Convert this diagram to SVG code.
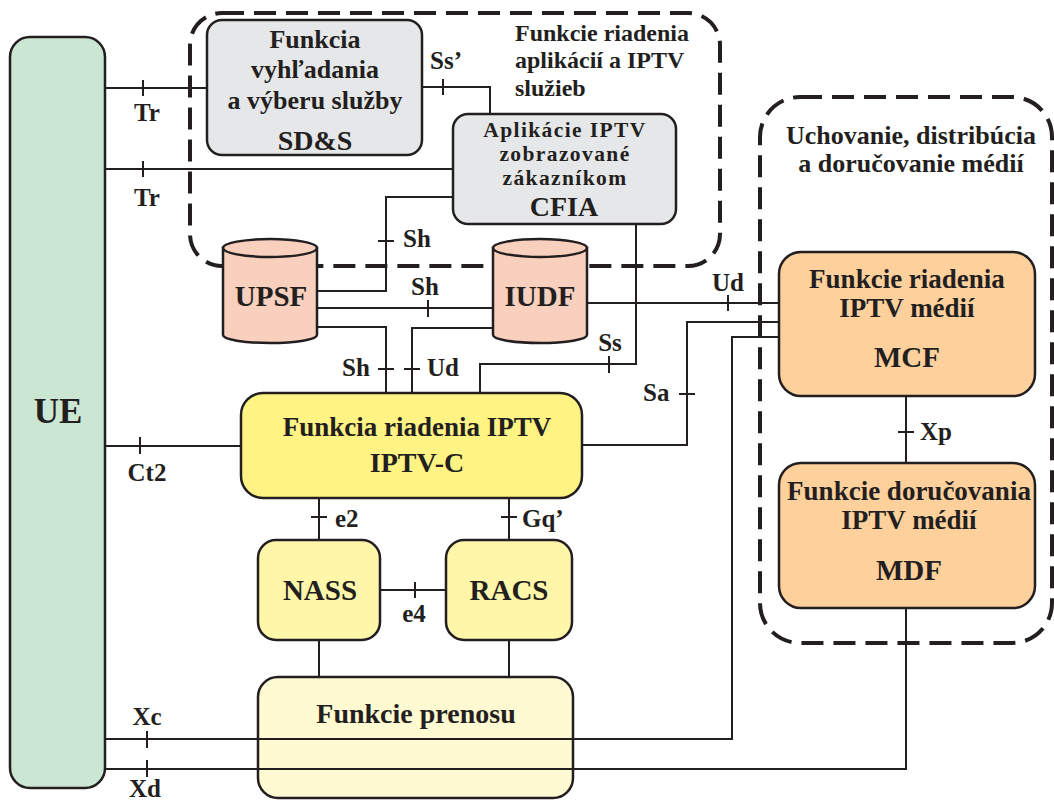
<svg xmlns="http://www.w3.org/2000/svg" width="1054" height="801" viewBox="0 0 1054 801">
<style>
text{font-family:"Liberation Serif","Times New Roman",serif;font-weight:bold;fill:#231f20}
.c{text-anchor:middle}
.box{stroke:#231f20;stroke-width:2.5}
.grp{fill:none;stroke:#231f20;stroke-width:4;stroke-dasharray:22 10}
.ln{fill:none;stroke:#231f20;stroke-width:2}
.t{font-size:26px}
.lb{font-size:25px}
.cf{font-size:21.5px;letter-spacing:1.4px}
</style>
<rect width="1054" height="801" fill="#ffffff"/>
<g id="group-app">
<rect class="grp" x="190" y="13" width="530" height="253" rx="32"/>
<text x="515" y="41" font-size="24">Funkcie riadenia</text>
<text x="515" y="68" font-size="24">aplikácií a IPTV</text>
<text x="515" y="96" font-size="24">služieb</text>
</g>
<g id="group-media">
<rect class="grp" x="760" y="97" width="292" height="546" rx="40"/>
<text class="t c" x="911" y="144">Uchovanie, distribúcia</text>
<text class="t c" x="911" y="172">a doručovanie médií</text>
</g>
<g id="UE">
<rect class="box" x="10" y="37" width="95" height="751" rx="20" fill="#cce6d4"/>
<text class="c" x="58" y="423" font-size="35">UE</text>
</g>
<g id="SDS">
<rect class="box" x="207" y="20" width="215" height="135" rx="15" fill="#e6e7e8"/>
<text class="t c" x="315" y="48">Funkcia</text>
<text class="t c" x="315" y="78">vyhľadania</text>
<text class="t c" x="315" y="109">a výberu služby</text>
<text class="c" x="315" y="150" font-size="28">SD&amp;S</text>
</g>
<g id="CFIA">
<rect class="box" x="453" y="114" width="223" height="110" rx="15" fill="#e6e7e8"/>
<text class="c cf" x="565" y="137">Aplikácie IPTV</text>
<text class="c cf" x="565" y="161">zobrazované</text>
<text class="c cf" x="565" y="185">zákazníkom</text>
<text class="c" x="564" y="216" font-size="28">CFIA</text>
</g>
<g id="UPSF">
<path class="box" d="M223,248 V335 A47,8 0 0 0 317,335 V248 Z" fill="#f9cfbd"/>
<ellipse class="box" cx="270" cy="248" rx="47" ry="9" fill="#f9cfbd"/>
<text class="c" x="271" y="306" font-size="29">UPSF</text>
</g>
<g id="IUDF">
<path class="box" d="M493,248 V335 A47,8 0 0 0 587,335 V248 Z" fill="#f9cfbd"/>
<ellipse class="box" cx="540" cy="248" rx="47" ry="9" fill="#f9cfbd"/>
<text class="c" x="540" y="306" font-size="29">IUDF</text>
</g>
<g id="IPTV-C">
<rect class="box" x="241" y="393" width="341" height="105" rx="22" fill="#fff383"/>
<text class="c" x="417" y="436" font-size="27">Funkcia riadenia IPTV</text>
<text class="c" x="417" y="472" font-size="28">IPTV-C</text>
</g>
<g id="NASS">
<rect class="box" x="258" y="540" width="122" height="100" rx="18" fill="#fff6aa"/>
<text class="c" x="320" y="600" font-size="29">NASS</text>
</g>
<g id="RACS">
<rect class="box" x="446" y="540" width="126" height="100" rx="18" fill="#fff6aa"/>
<text class="c" x="509" y="600" font-size="29">RACS</text>
</g>
<g id="prenos">
<rect class="box" x="258" y="677" width="315" height="121" rx="20" fill="#fffad2"/>
<text class="c" x="416" y="723" font-size="28">Funkcie prenosu</text>
</g>
<g id="MCF">
<rect class="box" x="779" y="252" width="256" height="144" rx="22" fill="#fed09c"/>
<text class="c" x="907" y="288" font-size="27">Funkcie riadenia</text>
<text class="c" x="907" y="317" font-size="27">IPTV médií</text>
<text class="c" x="907" y="367" font-size="29">MCF</text>
</g>
<g id="MDF">
<rect class="box" x="779" y="463" width="256" height="145" rx="22" fill="#fed09c"/>
<text class="c" x="909" y="500" font-size="27">Funkcie doručovania</text>
<text class="c" x="909" y="529" font-size="27">IPTV médií</text>
<text class="c" x="909" y="580" font-size="29">MDF</text>
</g>
<g id="connectors">
<path class="ln" d="M105,88 H207"/>
<path class="ln" d="M105,169 H453"/>
<path class="ln" d="M422,87 H490 V114"/>
<path class="ln" d="M453,197 H386 V291 H317"/>
<path class="ln" d="M317,308 H493"/>
<path class="ln" d="M317,327 H386 V393"/>
<path class="ln" d="M493,328 H412 V393"/>
<path class="ln" d="M636,224 V364 H480 V393"/>
<path class="ln" d="M587,303 H779"/>
<path class="ln" d="M582,445 H687 V322 H779"/>
<path class="ln" d="M105,446 H241"/>
<path class="ln" d="M105,739 H732 V337 H779"/>
<path class="ln" d="M105,769 H906 V608"/>
<path class="ln" d="M906,396 V463"/>
<path class="ln" d="M319,498 V540"/>
<path class="ln" d="M509,498 V540"/>
<path class="ln" d="M380,590 H446"/>
<path class="ln" d="M319,640 V677"/>
<path class="ln" d="M509,640 V677"/>
<path class="ln" d="M143,80 V96 M143,161 V177 M443,79 V95 M378,241 H394 M428,300 V317 M378,369 H394 M404,369 H420 M609,356 V373 M728,295 V311 M679,394 H695 M140,437 V454 M311,517 H327 M501,517 H517 M415,582 V598 M898,432 H914 M147,731 V748 M147,760 V777"/>
<text class="lb c" x="147" y="121">Tr</text>
<text class="lb c" x="147" y="206">Tr</text>
<text class="lb c" x="446" y="69">Ss’</text>
<text class="lb" x="403" y="247">Sh</text>
<text class="lb c" x="425" y="295">Sh</text>
<text class="lb" x="342" y="376">Sh</text>
<text class="lb" x="427" y="376">Ud</text>
<text class="lb c" x="610" y="351">Ss</text>
<text class="lb c" x="728" y="291">Ud</text>
<text class="lb" x="643" y="401">Sa</text>
<text class="lb c" x="147" y="481">Ct2</text>
<text class="lb" x="335" y="527">e2</text>
<text class="lb" x="522" y="527">Gq’</text>
<text class="lb c" x="414" y="622">e4</text>
<text class="lb" x="920" y="440">Xp</text>
<text class="lb c" x="147" y="725">Xc</text>
<text class="lb c" x="145" y="797">Xd</text>
</g>
</svg>
